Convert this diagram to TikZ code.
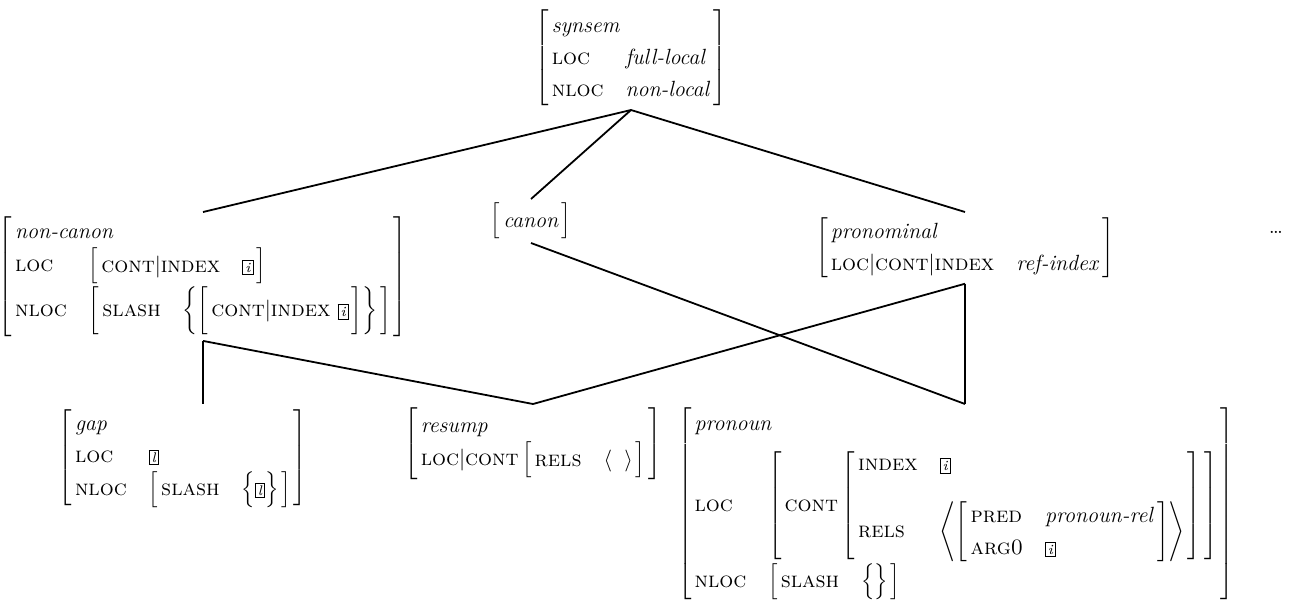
\documentclass[tikz,border=0pt]{standalone}
\usepackage{fontspec}
\usepackage{tikz}
\renewcommand{\arraystretch}{1.18}
\newcommand{\avmfont}{\fontsize{11}{13.5}\selectfont}
\newcommand{\avm}[1]{\ensuremath{\left[\hspace{1.5pt}\begin{tabular}{@{}l@{\hspace{1em}}l@{}}#1\end{tabular}\hspace{1.5pt}\right]}}
\newcommand{\avmi}[1]{\ensuremath{\left[\hspace{1.5pt}\begin{tabular}{@{}l@{}}#1\end{tabular}\hspace{1.5pt}\right]}}
\newcommand{\ty}[1]{\multicolumn{2}{@{}l@{}}{\textit{#1}}}
\newcommand{\tg}[1]{{\setlength{\fboxsep}{1pt}\setlength{\fboxrule}{0.4pt}\fbox{\scriptsize\textit{#1}\vphantom{l}}}}
\newcommand{\pth}{$|$}
\newcommand{\tall}{\rule[-10pt]{0pt}{26pt}}

\begin{document}
\begin{tikzpicture}[x=0.5pt,y=-0.5pt,
    avm/.style={inner sep=0pt, outer sep=2pt, anchor=north, font=\avmfont},
    link/.style={line width=0.9pt}]
  \useasboundingbox (0,0) rectangle (1300,612);

  % top type
  \node[avm] (synsem) at (631,6) {\avm{\ty{synsem}\\
      \textsc{loc} & \textit{full-local}\\
      \textsc{nloc} & \textit{non-local}}};

  % middle row
  \node[avm] (noncanon) at (203,212) {\avm{\ty{non-canon}\\
      \textsc{loc} & \avm{\textsc{cont}\pth\textsc{index} & \tg{i}}\\[2pt]
      \textsc{nloc} & \avm{\textsc{slash} & $\left\{\avmi{\tall\textsc{cont}\pth\textsc{index} \tg{i}}\right\}$}}};
  \node[avm] (canon) at (531,199) {\avmi{\textit{canon}}};
  \node[avm] (pronominal) at (965,212) {\avm{\ty{pronominal}\\
      \textsc{loc}\pth\textsc{cont}\pth\textsc{index} & \textit{ref-index}}};
  \node[font=\avmfont] (dots) at (1276,232) {\dots};

  % bottom row
  \node[avm] (gap) at (183,404) {\avm{\ty{gap}\\
      \textsc{loc} & \tg{l}\\
      \textsc{nloc} & \avm{\textsc{slash} & $\Big\{\tg{l}\Big\}$}}};
  \node[avm] (resump) at (533,404) {\avmi{\textit{resump}\\
      \textsc{loc}\pth\textsc{cont}\,\avm{\textsc{rels} & $\big\langle\;\;\big\rangle$}}};
  \node[avm] (pronoun) at (956,404) {\avm{\ty{pronoun}\\[4pt]
      \textsc{loc} & \avmi{\textsc{cont}\,\avm{\textsc{index} & \tg{i}\\[10pt]
          \textsc{rels} & $\left\langle\avm{\textsc{pred} & \textit{pronoun-rel}\\
              \textsc{arg0} & \tg{i}}\right\rangle$}}\\[2pt]
      \textsc{nloc} & \avm{\textsc{slash} & $\Big\{\Big\}$}}};

  % links
  \draw[link] (synsem.south) -- (noncanon.north);
  \draw[link] (synsem.south) -- (canon.north);
  \draw[link] (synsem.south) -- (pronominal.north);
  \draw[link] (noncanon.south) -- (noncanon.south |- gap.north);
  \draw[link] (noncanon.south) -- (resump.north);
  \draw[link] (canon.south) -- (pronominal.south |- pronoun.north);
  \draw[link] (pronominal.south) -- (resump.north);
  \draw[link] (pronominal.south) -- (pronominal.south |- pronoun.north);
\end{tikzpicture}
\end{document}
